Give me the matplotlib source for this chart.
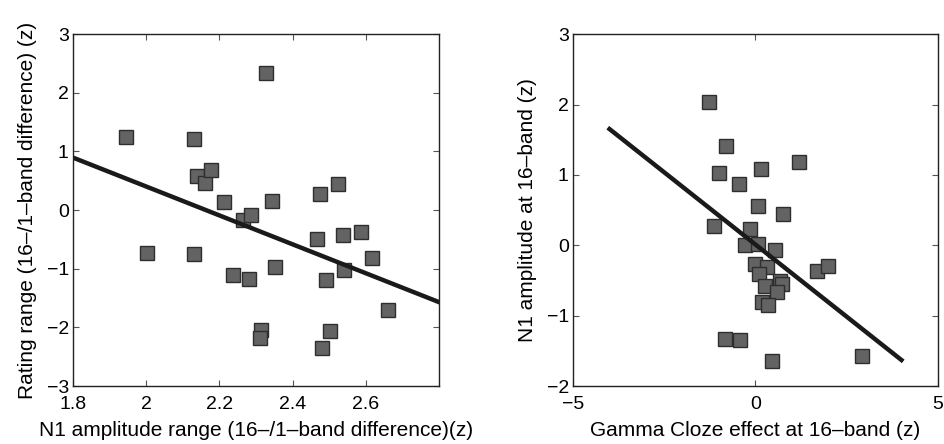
import numpy as np
import matplotlib
matplotlib.use("Agg")
import matplotlib.pyplot as plt

plt.rcParams['font.family'] = ['Liberation Sans', 'DejaVu Sans']

# left panel: N1 amplitude range vs rating range
n1_range = [1.946, 2.002, 2.131, 2.131, 2.139, 2.161, 2.177, 2.213, 2.237, 2.264,
            2.28, 2.287, 2.315, 2.311, 2.327, 2.344, 2.352, 2.466, 2.475, 2.481,
            2.491, 2.503, 2.524, 2.537, 2.54, 2.586, 2.617, 2.661]
rating_range = [1.25, -0.74, 1.205, -0.755, 0.59, 0.47, 0.68, 0.137, -1.10, -0.17,
                -1.175, -0.085, -2.05, -2.18, 2.335, 0.154, -0.97, -0.50, 0.268, -2.35,
                -1.19, -2.06, 0.443, -0.43, -1.02, -0.375, -0.82, -1.70]

# right panel: gamma cloze effect vs N1 amplitude
gamma_cloze = [-1.27, -0.81, -1.0, -0.44, 0.16, 1.19, 0.077, 0.75,
               -1.14, -0.14, -0.28, 0.08, 0.53, -0.02, 0.31, 0.10, 0.68, 0.27,
               0.73, 0.59, 0.19, 0.35, 1.69, 1.99, -0.84, -0.42, 0.46, 2.93]
n1_amp = [2.03, 1.41, 1.03, 0.865, 1.08, 1.18, 0.557, 0.45,
          0.28, 0.23, 0.0, 0.02, -0.07, -0.27, -0.31, -0.41, -0.51, -0.58,
          -0.55, -0.67, -0.81, -0.85, -0.36, -0.30, -1.33, -1.35, -1.65, -1.57]

fig = plt.figure(figsize=(9.44, 4.44), dpi=100)
ax1 = fig.add_axes([0.0773, 0.1306, 0.3877, 0.7924])
ax2 = fig.add_axes([0.607, 0.1306, 0.3866, 0.7924])

mk = dict(linestyle="none", marker="s", markersize=10, markerfacecolor="#636363",
          markeredgecolor="#2e2e2e", markeredgewidth=1.0)

ax1.plot(n1_range, rating_range, **mk)
fit1 = np.poly1d(np.polyfit(n1_range, rating_range, 1))
xs1 = np.array([1.8, 2.8])
ax1.plot(xs1, fit1(xs1), color="#1a1a1a", lw=3.2)
ax1.set_xlim(1.8, 2.8)
ax1.set_ylim(-3, 3)
ax1.set_xticks([1.8, 2, 2.2, 2.4, 2.6])
ax1.set_xticklabels(["1.8", "2", "2.2", "2.4", "2.6"])
ax1.set_yticks(range(-3, 4))
ax1.set_xlabel("N1 amplitude range (16–/1–band difference)(z)", fontsize=15, labelpad=6)
ax1.set_ylabel("Rating range (16–/1–band difference) (z)", fontsize=15, labelpad=7)

ax2.plot(gamma_cloze, n1_amp, **mk)
fit2 = np.poly1d(np.polyfit(gamma_cloze, n1_amp, 1))
xs2 = np.array([-4, 4])
ax2.plot(xs2, fit2(xs2), color="#1a1a1a", lw=3.2)
ax2.set_xlim(-5, 5)
ax2.set_ylim(-2, 3)
ax2.set_xticks([-5, 0, 5])
ax2.set_yticks(range(-2, 4))
ax2.set_xlabel("Gamma Cloze effect at 16–band (z)", fontsize=15, labelpad=6)
ax2.set_ylabel("N1 amplitude at 16–band (z)", fontsize=15, labelpad=7)

for ax in (ax1, ax2):
    ax.tick_params(direction="in", top=True, right=True, labelsize=14, length=4,
                   color="#555555")
    ax.tick_params(axis="x", pad=7)
    ax.tick_params(axis="y", pad=3)
    for s in ax.spines.values():
        s.set_linewidth(1.0)
        s.set_color("#222222")

fig.savefig("out.png", dpi=100)
